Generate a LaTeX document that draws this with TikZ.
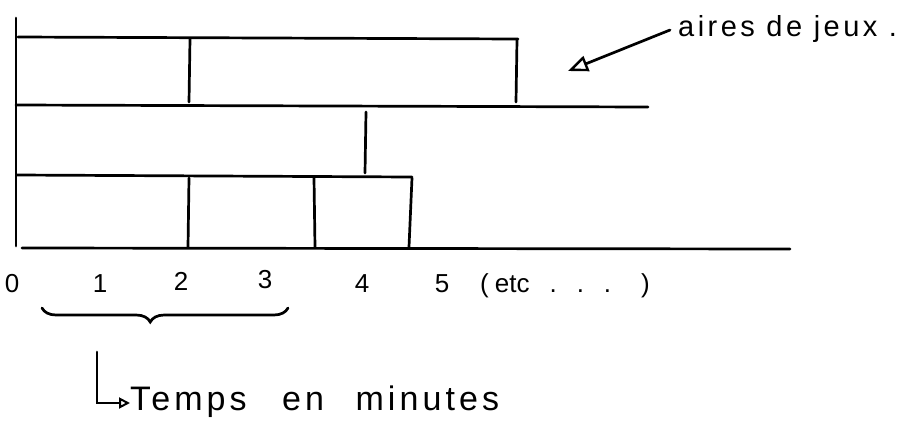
\documentclass[tikz,border=0pt]{standalone}
\usepackage{fontspec}
\setmainfont{Liberation Sans}
\newfontfamily\handfont[LetterSpace=12]{Liberation Sans}
\usetikzlibrary{arrows.meta,decorations.pathreplacing}
\begin{document}
\begin{tikzpicture}[x=1pt,y=-1pt,
  ln/.style={line width=2.7pt,line cap=round},
  lbl/.style={font=\fontsize{26}{28}\selectfont,inner sep=0pt,anchor=base},
  txt/.style={font=\handfont\fontsize{29}{31}\selectfont,inner sep=0pt,anchor=base west},
  bigtxt/.style={font=\handfont\fontsize{34}{36}\selectfont,inner sep=0pt,anchor=base west}]
\useasboundingbox (0,0) rectangle (914,432);
% axes
\coordinate (axT) at (16,18);
\coordinate (axB) at (16,246);
\coordinate (bL) at (22,248);
\coordinate (bR) at (790,249);
\draw[ln] (axT) -- (axB);
\draw[ln] (bL) -- (bR);
% row lines
\coordinate (r1L) at (18,37); \coordinate (r1R) at (518,39);
\coordinate (r2L) at (16,105); \coordinate (r2R) at (648,107);
\coordinate (r3L) at (17,175); \coordinate (r3R) at (412,177);
\draw[ln] (r1L) -- (r1R);
\draw[ln] (r2L) -- (r2R);
\draw[ln] (r3L) -- (r3R);
% separators
\coordinate (v1a) at (190,39); \coordinate (v1b) at (189,102);
\coordinate (v2a) at (517,40); \coordinate (v2b) at (516,102);
\coordinate (v3a) at (366,112); \coordinate (v3b) at (365,173);
\coordinate (v4a) at (189,178); \coordinate (v4b) at (188,247);
\coordinate (v5a) at (314,178); \coordinate (v5b) at (315,247);
\coordinate (v6a) at (412,178); \coordinate (v6b) at (409,247);
\foreach \a/\b in {v1a/v1b,v2a/v2b,v3a/v3b,v4a/v4b,v5a/v5b,v6a/v6b}
  \draw[ln] (\a) -- (\b);
% label and arrow
\node[txt] (aires) at (678,36) {aires de jeux .};
\coordinate (arS) at (670,30);
\coordinate (arT) at (568,71);
\draw[ln,-{Triangle[open,length=20pt,width=16pt,line width=2.4pt]}] (arS) -- (arT);
% tick labels
\node[lbl] (n0) at (12,292) {0};
\node[lbl] (n1) at (100,292) {1};
\node[lbl] (n2) at (181,290) {2};
\node[lbl] (n3) at (265,288) {3};
\node[lbl] (n4) at (362,292) {4};
\node[lbl] (n5) at (442,292) {5};
\node[lbl,anchor=base west] (etc) at (480,292) {(\hspace{6pt}etc\hspace{20pt}.\hspace{20pt}.\hspace{20pt}.\hspace{30pt})};
% brace
\coordinate (brL) at (42,308);
\coordinate (brR) at (288,308);
\draw[ln,decorate,decoration={brace,mirror,amplitude=14pt,aspect=0.44}] (brL) -- (brR);
% L-arrow
\node[bigtxt] (temps) at (130,410) {Temps\hspace{22pt} en\hspace{18pt} minutes};
\coordinate (lT) at (97,352);
\coordinate (lC) at (97,403);
\draw[ln,-{Triangle[open,length=11pt,width=11pt,line width=2pt]}] (lT) -- (lC) -- (temps.west |- lC);
\end{tikzpicture}
\end{document}
